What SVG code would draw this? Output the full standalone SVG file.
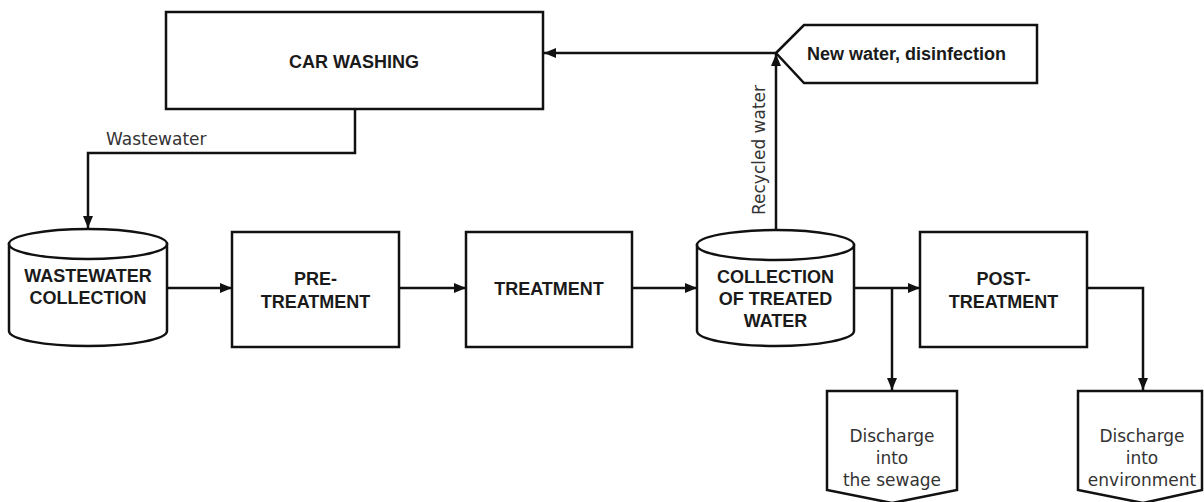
<svg xmlns="http://www.w3.org/2000/svg" width="1204" height="502" viewBox="0 0 1204 502">
<style>
.shape{fill:#fff;stroke:#111;stroke-width:2.5}
.line{fill:none;stroke:#111;stroke-width:2.5}
.b{font-family:"Liberation Sans",Arial,sans-serif;font-weight:bold;font-size:18px;fill:#1a1a1a;text-anchor:middle}
.r{font-family:"DejaVu Sans",sans-serif;font-size:17px;fill:#333;text-anchor:middle}
</style>
<defs>
<marker id="arr" markerUnits="userSpaceOnUse" markerWidth="12" markerHeight="12" viewBox="0 0 12 12" refX="12" refY="6" orient="auto">
<path d="M0,1 L12,6 L0,11 Z" fill="#111"/>
</marker>
</defs>
<rect width="1204" height="502" fill="#fff"/>
<g id="connectors">
<polyline class="line" points="355,109 355,153 88,153 88,228" marker-end="url(#arr)"/>
<line class="line" x1="167" y1="288" x2="232" y2="288" marker-end="url(#arr)"/>
<line class="line" x1="399" y1="288" x2="466" y2="288" marker-end="url(#arr)"/>
<line class="line" x1="632" y1="288" x2="697" y2="288" marker-end="url(#arr)"/>
<line class="line" x1="776" y1="230" x2="776" y2="54" marker-end="url(#arr)"/>
<line class="line" x1="776" y1="53" x2="544" y2="53" marker-end="url(#arr)"/>
<line class="line" x1="854" y1="288" x2="920" y2="288" marker-end="url(#arr)"/>
<line class="line" x1="892" y1="288" x2="892" y2="390" marker-end="url(#arr)"/>
<polyline class="line" points="1087,288 1143,288 1143,390" marker-end="url(#arr)"/>
<text class="r" transform="translate(765,150) rotate(-90)" font-size="16">Recycled water</text>
<text class="r" x="106" y="145" style="text-anchor:start">Wastewater</text>
</g>
<g id="car-washing">
<rect class="shape" x="166" y="12" width="377" height="97"/>
<text class="b" x="354" y="68">CAR WASHING</text>
</g>
<g id="new-water">
<polygon class="shape" points="776,53 804,25 1037,25 1037,83 804,83"/>
<text class="b" x="807" y="60" style="text-anchor:start">New water, disinfection</text>
</g>
<g id="wastewater-collection">
<path class="shape" d="M9,244 L9,331 A79,15 0 0 0 167,331 L167,244 Z"/>
<ellipse class="shape" cx="88" cy="244" rx="79" ry="15"/>
<text class="b" x="88" y="282">WASTEWATER</text>
<text class="b" x="88" y="304">COLLECTION</text>
</g>
<g id="pre-treatment">
<rect class="shape" x="232" y="232" width="167" height="115"/>
<text class="b" x="315.5" y="285">PRE-</text>
<text class="b" x="315.5" y="308">TREATMENT</text>
</g>
<g id="treatment">
<rect class="shape" x="466" y="232" width="166" height="115"/>
<text class="b" x="549" y="295">TREATMENT</text>
</g>
<g id="collection-treated">
<path class="shape" d="M697,245 L697,331 A78.5,15 0 0 0 854,331 L854,245 Z"/>
<ellipse class="shape" cx="775.5" cy="245" rx="78.5" ry="15"/>
<text class="b" x="775.5" y="283">COLLECTION</text>
<text class="b" x="775.5" y="305">OF TREATED</text>
<text class="b" x="775.5" y="327">WATER</text>
</g>
<g id="post-treatment">
<rect class="shape" x="920" y="232" width="167" height="115"/>
<text class="b" x="1003.5" y="285">POST-</text>
<text class="b" x="1003.5" y="308">TREATMENT</text>
</g>
<g id="discharge-sewage">
<polygon class="shape" points="827,391 957,391 957,490 892,503 827,490"/>
<text class="r" x="892" y="442">Discharge</text>
<text class="r" x="892" y="464">into</text>
<text class="r" x="892" y="486">the sewage</text>
</g>
<g id="discharge-environment">
<polygon class="shape" points="1078,391 1202,391 1202,490 1143,503 1078,490"/>
<text class="r" x="1142" y="442">Discharge</text>
<text class="r" x="1142" y="464">into</text>
<text class="r" x="1142" y="486">environment</text>
</g>
</svg>
